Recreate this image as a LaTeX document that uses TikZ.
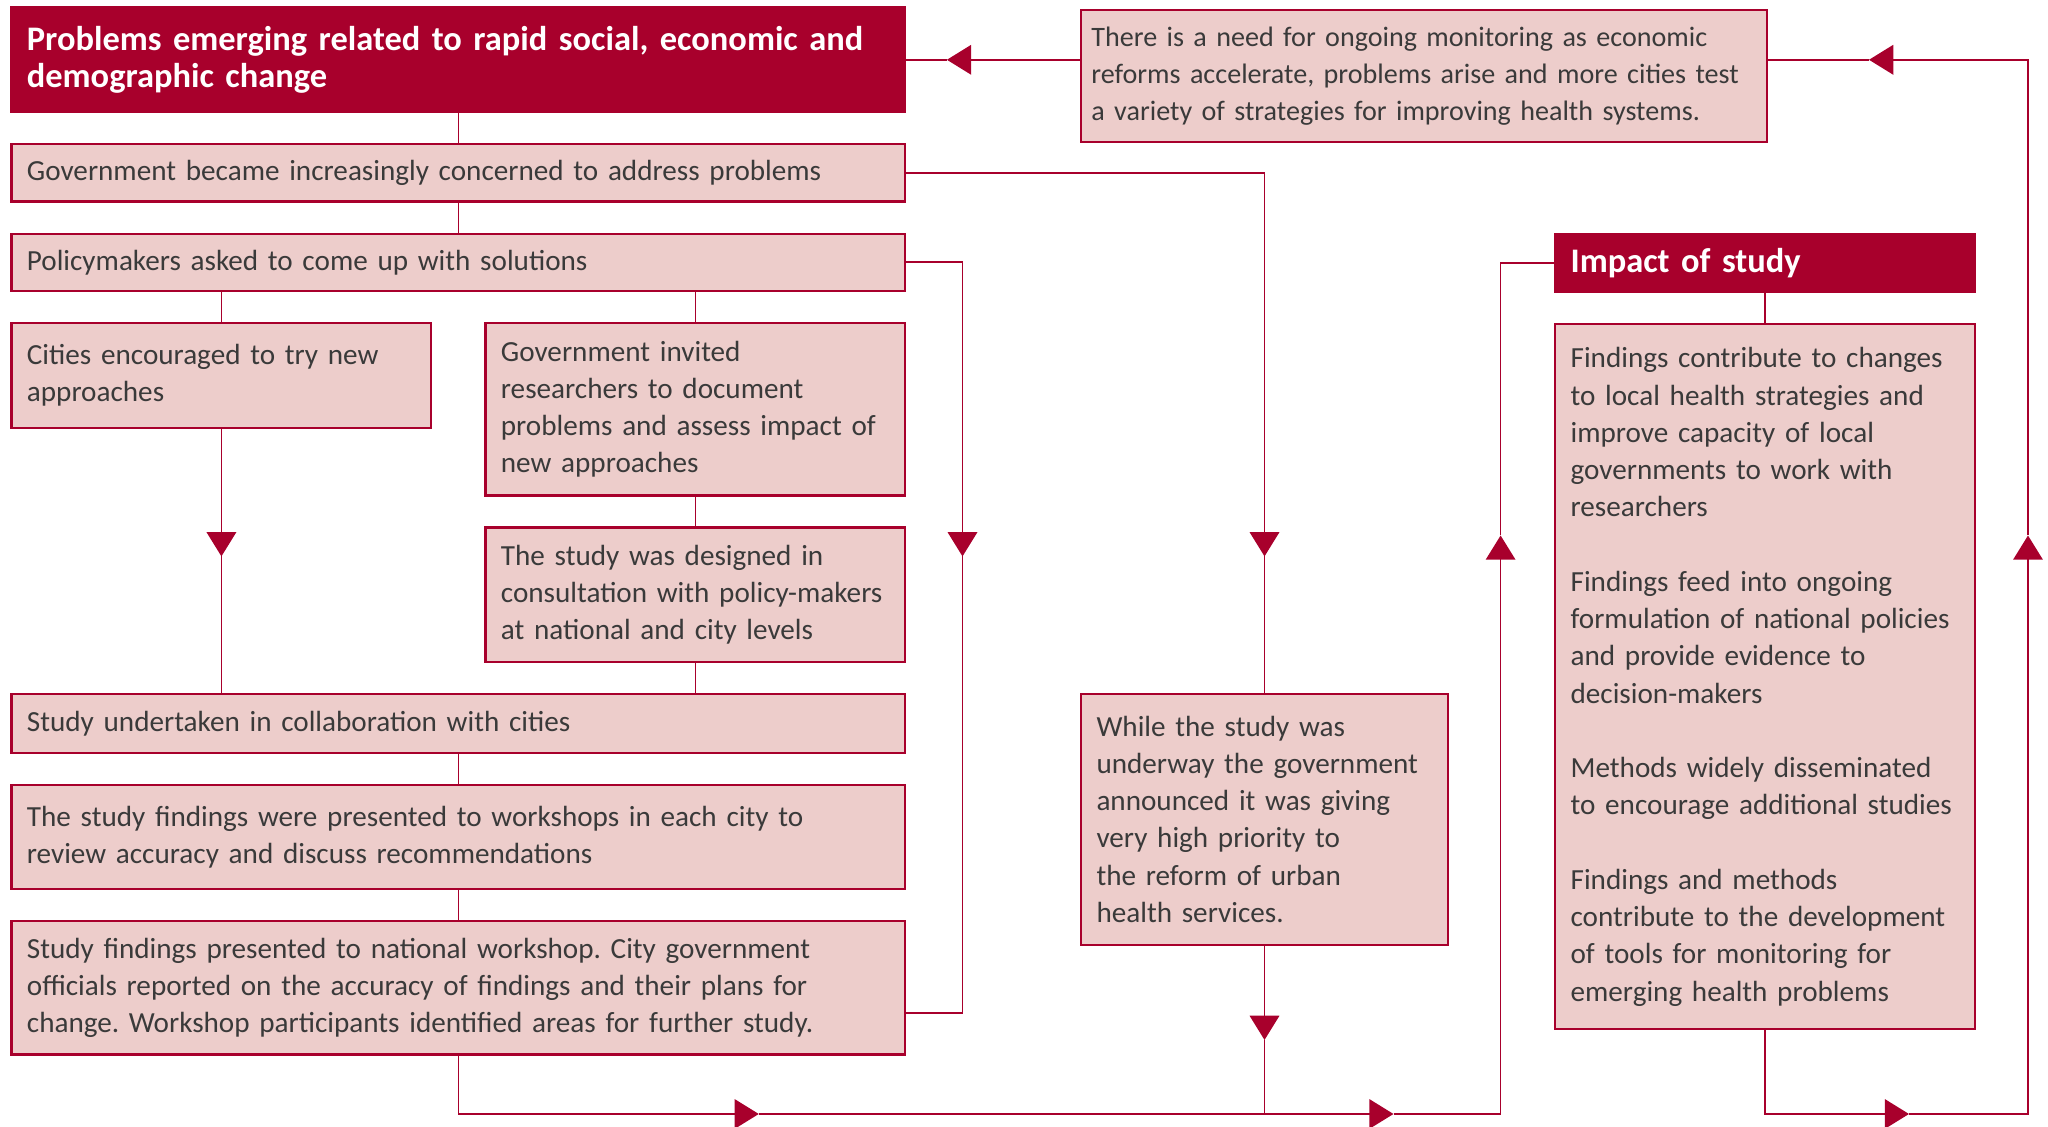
\documentclass[tikz,border=0pt]{standalone}
\usepackage{fontspec}
\setmainfont{Carlito}
\usetikzlibrary{arrows.meta,positioning}
\definecolor{crim}{HTML}{A8002C}
\definecolor{pale}{HTML}{EDCDCB}
\definecolor{ink}{HTML}{3A3A3A}
\hyphenpenalty=10000
\frenchspacing

\begin{document}
\begin{tikzpicture}[>=Latex,node distance=2.99mm and 5mm,
 b/.style={draw=crim,fill=pale,line width=.6pt,inner xsep=4.4pt,align=left,text=ink,font=\fontsize{8.3}{10.6}\selectfont},
 wide/.style={b,text width=8.63cm},
 narrow/.style={b,text width=3.89cm},
 hd/.style={fill=crim,text=white,font=\bfseries\fontsize{9.8}{10.6}\selectfont},
 l/.style={draw=crim,line width=.5pt},
 a/.style={l,-{Triangle[length=6.9pt,width=8.4pt]}}]
\useasboundingbox (0,0) rectangle (20.48,-11.27);
% left column
\node[wide,hd,anchor=north west,minimum height=1.045cm] (prob) at (0.104,-0.065) {Problems emerging related to rapid social, economic and\\demographic change};
\node[wide,below=of prob,minimum height=.575cm] (gov) {Government became increasingly concerned to address problems};
\node[wide,below=of gov,minimum height=.575cm] (pol) {Policymakers asked to come up with solutions};
\node[narrow,below=of pol.south west,anchor=north west,minimum height=1.045cm] (cities) {Cities encouraged to try new\\approaches};
\node[narrow,below=of pol.south east,anchor=north east,minimum height=1.724cm] (invited) {Government invited\\researchers to document\\problems and assess impact of\\new approaches};
\node[narrow,below=of invited,minimum height=1.345cm] (design) {The study was designed in\\consultation with policy-makers\\at national and city levels};
\node[wide,below=of design.south east,anchor=north east,minimum height=.588cm] (undert) {Study undertaken in collaboration with cities};
\node[wide,below=of undert,minimum height=1.045cm] (present) {The study findings were presented to workshops in each city to\\review accuracy and discuss recommendations};
\node[wide,below=of present,minimum height=1.332cm] (national) {Study findings presented to national workshop. City government\\officials reported on the accuracy of findings and their plans for\\change. Workshop participants identified areas for further study.};
% right side
\node[b,text width=6.65cm,inner xsep=2.94pt,font=\fontsize{8}{10.6}\selectfont,anchor=north west,minimum height=1.319cm] (need) at (10.80,-0.091) {There is a need for ongoing monitoring as economic\\reforms accelerate, problems arise and more cities test\\a variety of strategies for improving health systems.};
\node[b,text width=3.36cm,anchor=north west,minimum height=2.507cm] (while) at (undert.north -| need.west) {While the study was\\underway the government\\announced it was giving\\very high priority to\\the reform of urban\\health services.};
\node[narrow,hd,anchor=north west,minimum height=.588cm] (impact) at (pol.north -| 15.541,0) {Impact of study};
\node[narrow,below=of impact,minimum height=7.05cm] (find) {Findings contribute to changes\\to local health strategies and\\improve capacity of local\\governments to work with\\researchers\\[10.6pt]Findings feed into ongoing\\formulation of national policies\\and provide evidence to\\decision-makers\\[10.6pt]Methods widely disseminated\\to encourage additional studies\\[10.6pt]Findings and methods\\contribute to the development\\of tools for monitoring for\\emerging health problems};
% arrow points
\coordinate (dn1) at (cities.south |- 0,-5.564);
\coordinate (dn2) at (9.625,-5.564);
\coordinate (dn3) at (while.north |- 0,-5.564);
\coordinate (dn4) at (while.south |- 0,-10.40);
\coordinate (r1) at (7.588,-11.14);
\coordinate (r2) at (13.935,-11.14);
\coordinate (r3) at (19.09,-11.14);
\coordinate (up1) at (15.006,-5.355);
\coordinate (up2) at (20.28,-5.355);
\coordinate (lf1) at (prob.east -| 18.69,0);
\coordinate (lf2) at (prob.east -| 9.469,0);
% connectors
\draw[l] (prob) -- (gov);
\draw[l] (gov) -- (pol);
\draw[l] (cities.north) -- (cities.north |- pol.south);
\draw[l] (invited.north) -- (invited.north |- pol.south);
\draw[a] (cities.south) -- (dn1);
\draw[l] (dn1) -- (dn1 |- undert.north);
\draw[l] (invited) -- (design);
\draw[l] (design.south) -- (design.south |- undert.north);
\draw[l] (undert) -- (present);
\draw[l] (present) -- (national);
\draw[a] (pol.east) -| (dn2);
\draw[l] (dn2) |- ([yshift=-.248cm]national.east);
\draw[a] (gov.east) -| (dn3);
\draw[l] (dn3) -- (while.north);
\draw[a] (while.south) -- (dn4);
\draw[l] (dn4) -- (dn4 |- r1);
\draw[a] (national.south) |- (r1);
\draw[a] (r1) -- (r2);
\draw[a] (r2) -| (up1);
\draw[l] (up1) |- (impact.west);
\draw[l] (impact) -- (find);
\draw[a] (find.south) |- (r3);
\draw[a] (r3) -| (up2);
\draw[a] (up2) |- (lf1);
\draw[l] (lf1) -- (lf1 -| need.east);
\draw[a] (need.west |- prob.east) -- (lf2);
\draw[l] (lf2) -- (prob.east);
\end{tikzpicture}
\end{document}
